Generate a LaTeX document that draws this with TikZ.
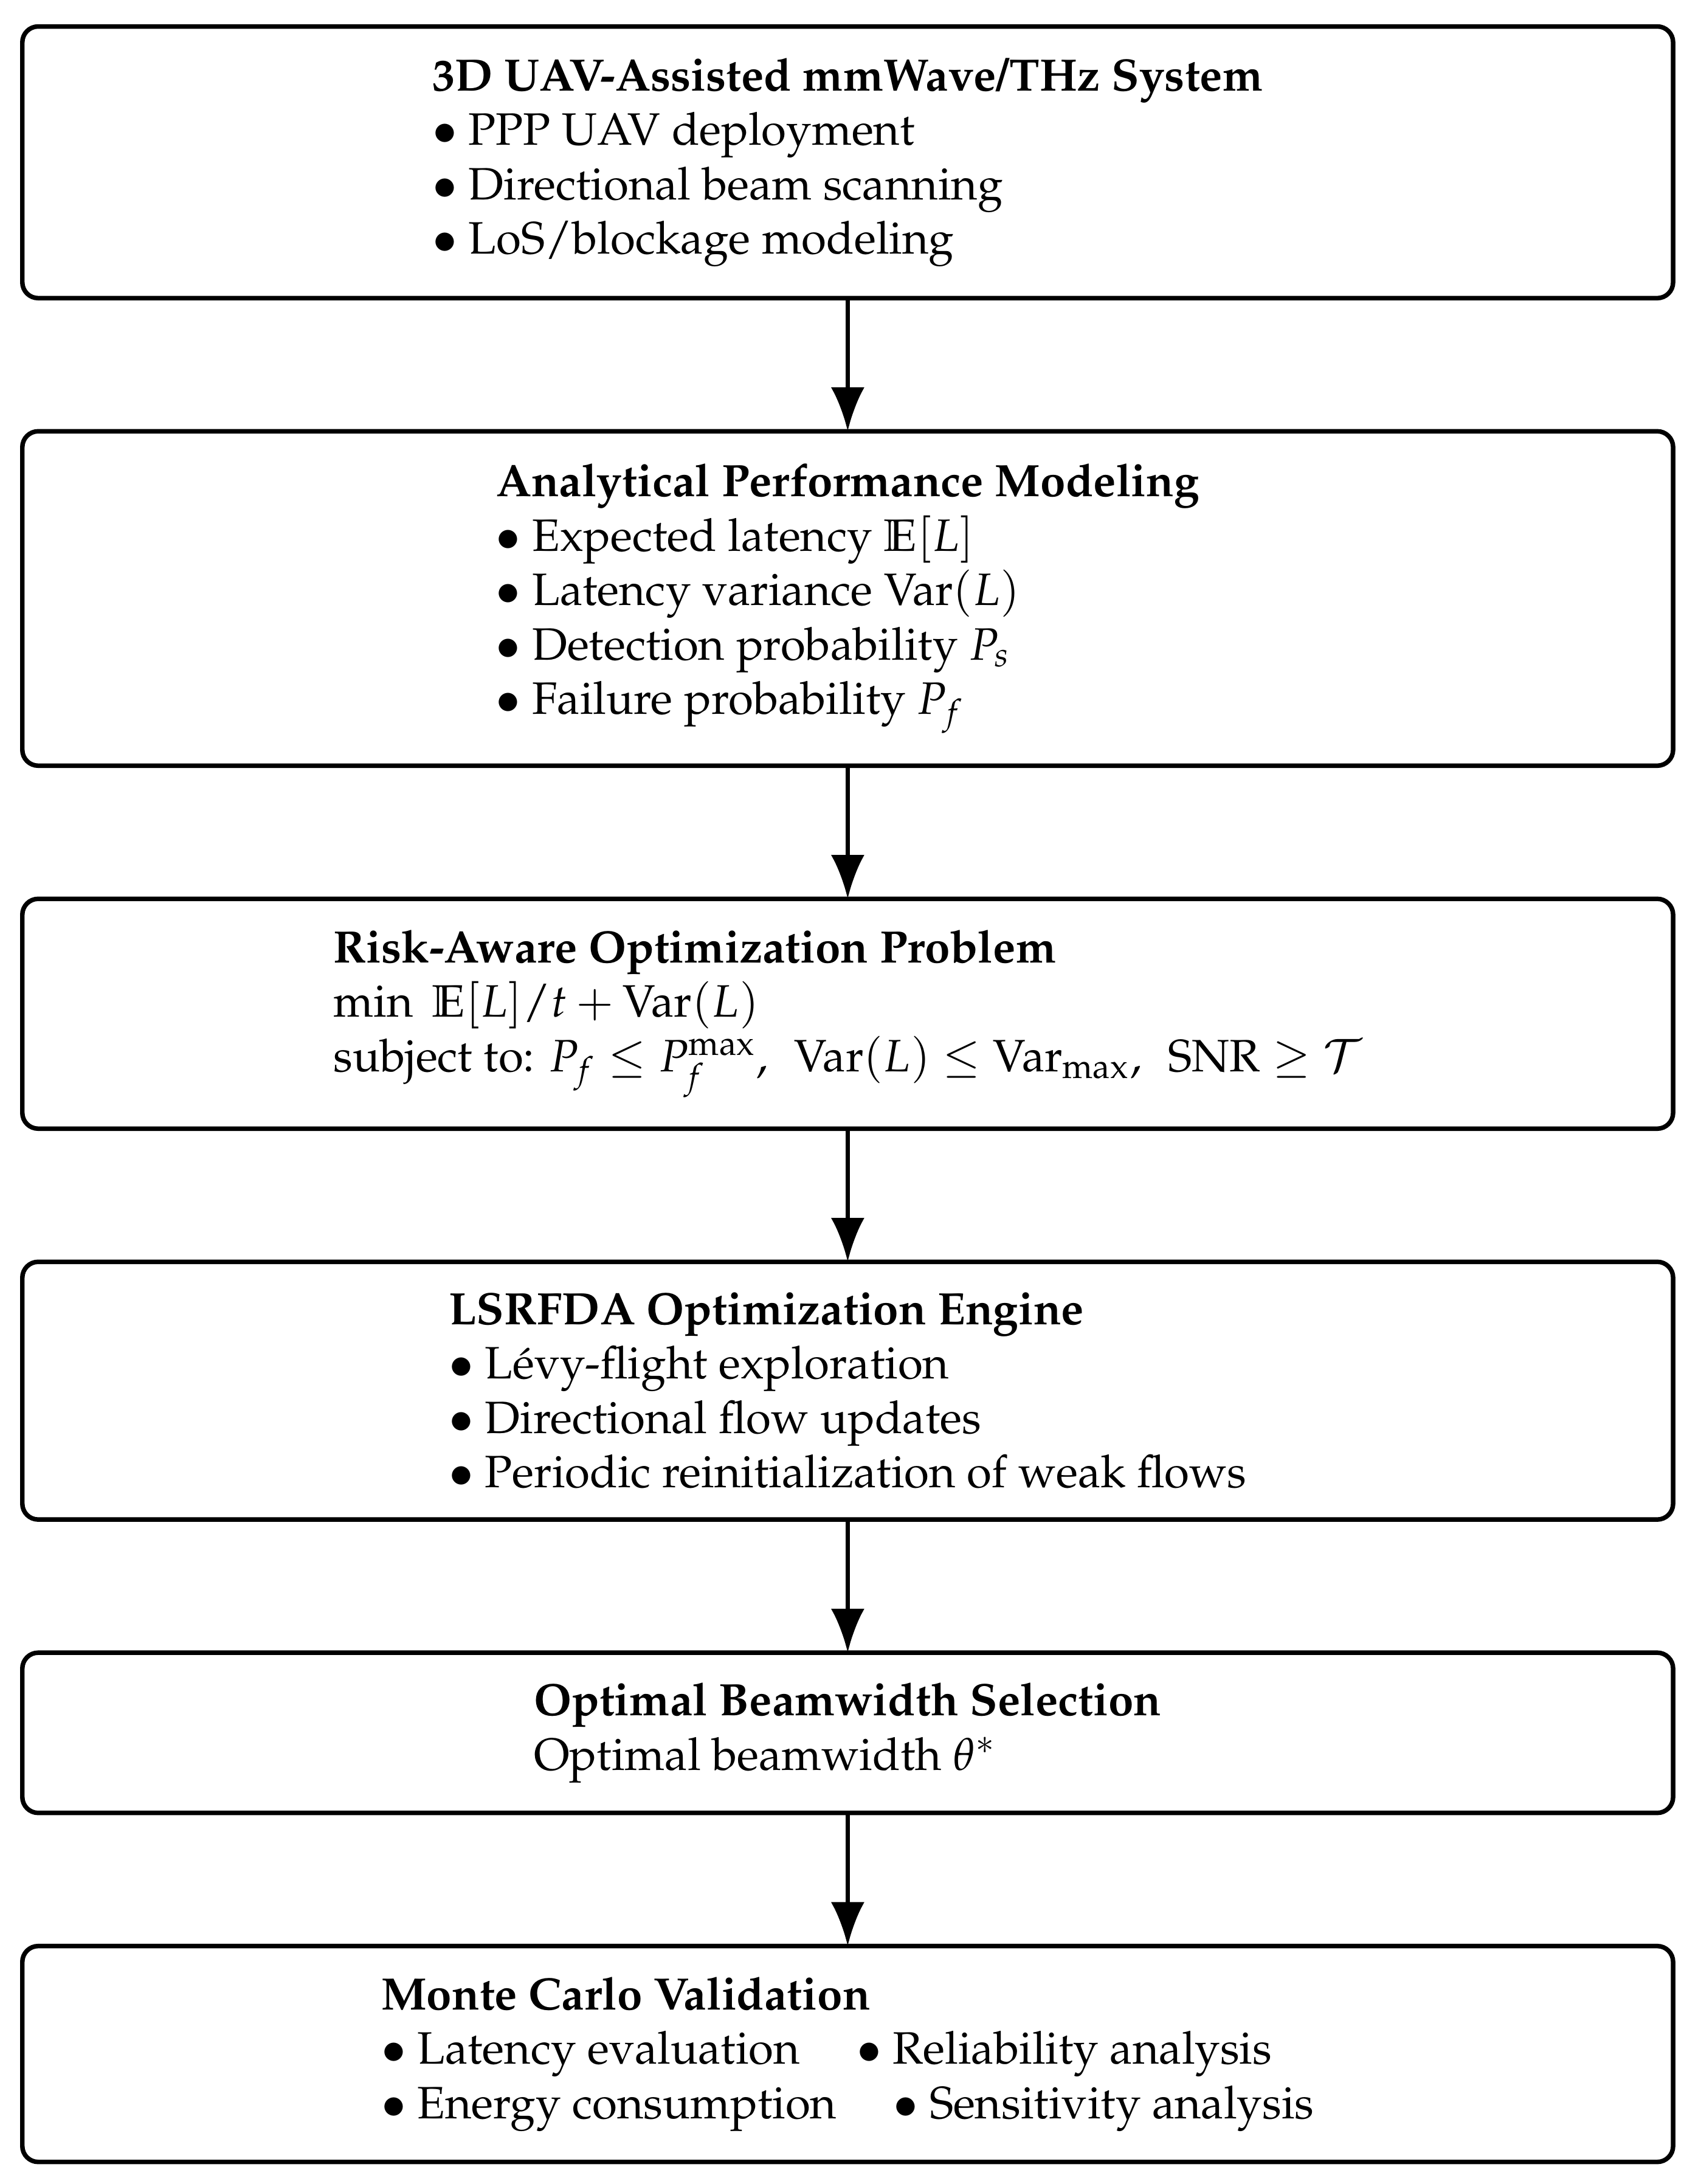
\documentclass[tikz,border=0pt]{standalone}
\usepackage{amsmath}
\usepackage{mathpazo}
\usepackage{amssymb}
\usepackage[T1]{fontenc}
\usetikzlibrary{arrows.meta, positioning}
\tikzset{
	stage/.style={rectangle, rounded corners=3.5pt, draw=black, line width=1pt, outer sep=0pt, minimum width=12.786cm, align=left},
	arrow/.style={line width=1pt,-{Latex[length=3.4mm, width=2.6mm]}}
}

\begin{document}
\begin{tikzpicture}[node distance=1.031cm]
		\useasboundingbox (0,0) rectangle (13.175,-16.914);
		% System and analytical model
		\node (system) [stage, minimum height=2.104cm] at (6.566,-1.257) {\textbf{3D UAV-Assisted mmWave/THz System}\\$\bullet$ PPP UAV deployment\\$\bullet$ Directional beam scanning\\$\bullet$ LoS/blockage modeling};
		\node (model) [stage, below=of system, minimum height=2.59cm] {\textbf{Analytical Performance Modeling}\\$\bullet$ Expected latency $\mathbb{E}[L]$\\$\bullet$ Latency variance $\mathrm{Var}(L)$\\$\bullet$ Detection probability $P_s$\\$\bullet$ Failure probability $P_f$};
		\node (problem) [stage, below=of model, minimum height=1.78cm] {\textbf{Risk-Aware Optimization Problem}\\$\min\ \mathbb{E}[L]/t + \mathrm{Var}(L)$\\subject to: $P_f \leq P_f^{\max},\,\ \mathrm{Var}(L) \leq \mathrm{Var}_{\max},\,\ \mathrm{SNR} \geq \mathcal{T}$};
		
		% Optimizer and outputs
		\node (engine) [stage, below=of problem, minimum height=1.996cm] {\textbf{LSRFDA Optimization Engine}\\$\bullet$ L\'evy-flight exploration\\$\bullet$ Directional flow updates\\$\bullet$ Periodic reinitialization of weak flows};
		\node (beam) [stage, below=of engine, minimum height=1.241cm] {\textbf{Optimal Beamwidth Selection}\\Optimal beamwidth $\theta^*$};
		\node (mc) [stage, below=of beam, minimum height=1.672cm] {\textbf{Monte Carlo Validation}\\$\bullet$ Latency evaluation\quad\ $\bullet$ Reliability analysis\\$\bullet$ Energy consumption\quad\ $\bullet$ Sensitivity analysis};
		
		% Flow
		\draw [arrow] (system) -- (model);
		\draw [arrow] (model) -- (problem);
		\draw [arrow] (problem) -- (engine);
		\draw [arrow] (engine) -- (beam);
		\draw [arrow] (beam) -- (mc);
	\end{tikzpicture}
\end{document}
